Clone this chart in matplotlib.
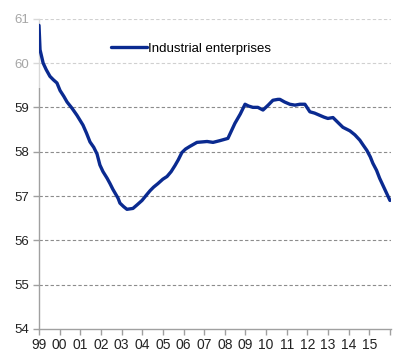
import matplotlib.pyplot as plt
from matplotlib.patches import Rectangle

plt.rcParams["font.family"] = ["Liberation Sans", "DejaVu Sans"]

# Industrial enterprises, % (read at roughly monthly steps, decimal years)
years = [1999.0, 1999.05, 1999.2, 1999.35, 1999.53, 1999.7, 1999.87, 2000.02,
         2000.2, 2000.36, 2000.6, 2000.84, 2001.13, 2001.3, 2001.47, 2001.65,
         2001.81, 2001.95, 2002.1, 2002.3, 2002.44, 2002.58, 2002.83, 2002.92,
         2003.1, 2003.26, 2003.55, 2003.75, 2003.99, 2004.2, 2004.38, 2004.55,
         2004.76, 2005.0, 2005.2, 2005.4, 2005.59, 2005.75, 2005.92, 2006.1,
         2006.31, 2006.65, 2006.9, 2007.14, 2007.43, 2007.77, 2008.15, 2008.3,
         2008.49, 2008.75, 2008.98, 2009.15, 2009.36, 2009.6, 2009.85, 2010.1,
         2010.33, 2010.57, 2010.67, 2010.9, 2011.15, 2011.4, 2011.64, 2011.88,
         2012.12, 2012.35, 2012.6, 2012.8, 2012.99, 2013.24, 2013.5, 2013.72,
         2014.06, 2014.3, 2014.54, 2014.7, 2014.88, 2015.05, 2015.17, 2015.35,
         2015.5, 2015.75, 2016.0]
share = [60.85, 60.3, 60.0, 59.85, 59.7, 59.62, 59.55, 59.38,
         59.25, 59.12, 58.98, 58.82, 58.6, 58.42, 58.22, 58.1,
         57.95, 57.7, 57.55, 57.4, 57.28, 57.15, 56.95, 56.84,
         56.76, 56.7, 56.72, 56.8, 56.9, 57.02, 57.12, 57.2,
         57.28, 57.38, 57.44, 57.55, 57.69, 57.82, 57.98, 58.06,
         58.12, 58.21, 58.22, 58.23, 58.21, 58.25, 58.3, 58.45,
         58.64, 58.85, 59.07, 59.03, 59.0, 59.0, 58.94, 59.05,
         59.16, 59.18, 59.18, 59.12, 59.07, 59.05, 59.07, 59.07,
         58.9, 58.87, 58.82, 58.78, 58.75, 58.77, 58.65, 58.55,
         58.47, 58.38, 58.26, 58.15, 58.03, 57.88, 57.74, 57.58,
         57.4, 57.15, 56.9]

tick_years = list(range(1999, 2017))
tick_labels = [f"{y % 100:02d}" for y in range(1999, 2016)] + [""]
y_ticks = [54, 55, 56, 57, 58, 59, 60, 61]

fig = plt.figure(figsize=(4.01, 3.52), dpi=100)
ax = fig.add_axes([39 / 401, 1 - 329 / 352, 352 / 401, (329 - 18.7) / 352])

ax.plot(years, share, color="#0A2A90", linewidth=2.4, label="Industrial enterprises",
        solid_capstyle="round", zorder=5)

ax.set_xlim(1999, 2016.05)
ax.set_ylim(54, 61)
ax.set_xticks(tick_years)
ax.set_xticklabels(tick_labels, fontsize=10)
ax.set_yticks(y_ticks)
ax.set_yticklabels([str(v) for v in y_ticks], fontsize=9.5)

for v in y_ticks[1:]:
    ax.axhline(v, color="#8c8c8c", linestyle=(0, (3, 2)), linewidth=0.8, zorder=1)

for side in ("top", "right"):
    ax.spines[side].set_visible(False)
for side in ("left", "bottom"):
    ax.spines[side].set_color("#a0a0a0")
    ax.spines[side].set_linewidth(1.0)
ax.tick_params(axis="both", colors="#a0a0a0", length=4, width=1.0, labelcolor="#222222")
ax.tick_params(axis="x", pad=2.5)
ax.tick_params(axis="y", pad=3)

# faded band across the top of the panel, under the series line
haze = Rectangle((0, 1 - 88 / 352), 1, 88 / 352, transform=fig.transFigure,
                 facecolor="white", alpha=0.6, edgecolor="none", zorder=3, clip_on=False)
ax.add_patch(haze)

leg = ax.legend(loc="upper left", bbox_to_anchor=(0.19, 0.94), frameon=False,
                fontsize=9.5, handlelength=2.7, handletextpad=0.1, borderaxespad=0)
leg.set_zorder(6)

fig.savefig("out.png", dpi=100)
